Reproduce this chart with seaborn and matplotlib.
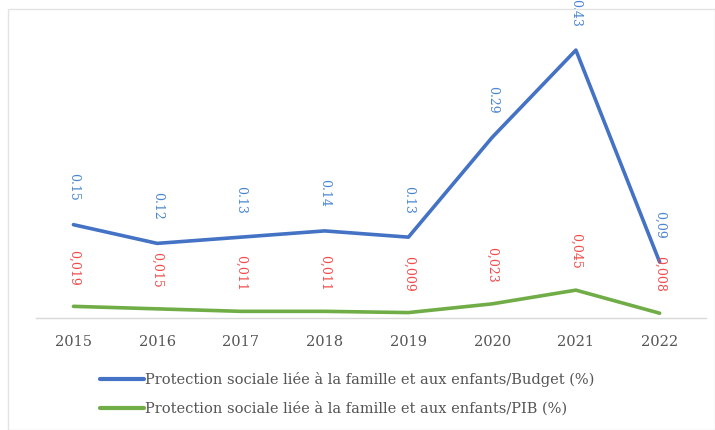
import matplotlib
matplotlib.use("Agg")
import matplotlib.pyplot as plt
import seaborn as sns
import pandas as pd
from matplotlib.patches import Rectangle

years = [2015, 2016, 2017, 2018, 2019, 2020, 2021, 2022]
budget_share = [0.15, 0.12, 0.13, 0.14, 0.13, 0.29, 0.43, 0.09]
gdp_share = [0.019, 0.015, 0.011, 0.011, 0.009, 0.023, 0.045, 0.008]
budget_labels = ["0.15", "0.12", "0.13", "0.14", "0.13", "0.29", "0.43", "0,09"]
gdp_labels = ["0,019", "0,015", "0,011", "0,011", "0,009", "0,023", "0,045", "0,008"]

name_budget = "Protection sociale liée à la famille et aux enfants/Budget (%)"
name_gdp = "Protection sociale liée à la famille et aux enfants/PIB (%)"

df = pd.DataFrame({
    "Année": years * 2,
    "Valeur": budget_share + gdp_share,
    "Série": [name_budget] * len(years) + [name_gdp] * len(years),
})

sns.set_theme(style="white")
plt.rcParams["font.family"] = ["DejaVu Serif"]

fig = plt.figure(figsize=(7.15, 4.3), dpi=100)
ax = fig.add_axes([0.05, 0.26, 0.937, 0.696])

palette = {name_budget: "#4472C4", name_gdp: "#70AD47"}
sns.lineplot(data=df, x="Année", y="Valeur", hue="Série", palette=palette,
             linewidth=2.6, ax=ax, legend=False)

for x, v, t in zip(years, budget_share, budget_labels):
    ax.annotate(t, (x, v), xytext=(0, 27), textcoords="offset points",
                rotation=270, ha="center", va="center", fontsize=9,
                color="#4A86D0")
for x, v, t in zip(years, gdp_share, gdp_labels):
    ax.annotate(t, (x, v), xytext=(0, 28), textcoords="offset points",
                rotation=270, ha="center", va="center", fontsize=9,
                color="#F04B4B")

ax.set_xlim(2014.55, 2022.55)
ax.set_ylim(0, 0.48)
ax.set_xticks(years)
ax.set_xticklabels([str(y) for y in years], fontsize=10.5, color="#555555")
ax.set_yticks([])
ax.set_xlabel("")
ax.set_ylabel("")
ax.tick_params(axis="x", length=0, pad=12)
for side in ["left", "right", "top"]:
    ax.spines[side].set_visible(False)
ax.spines["bottom"].set_color("#D9D9D9")
ax.spines["bottom"].set_linewidth(1)

handles = [plt.Line2D([], [], color=palette[name_budget], linewidth=3),
           plt.Line2D([], [], color=palette[name_gdp], linewidth=3)]
fig.legend(handles, [name_budget, name_gdp], loc="upper left",
           bbox_to_anchor=(0.14, 0.135), frameon=False, fontsize=10.5,
           handlelength=3.0, handletextpad=0.1, labelspacing=1.0,
           labelcolor="#555555", borderaxespad=0, borderpad=0)

# light frame around the chart
fig.patches.append(Rectangle((0.011, 0.0), 0.989, 0.978, transform=fig.transFigure,
                             fill=False, edgecolor="#E3E3E3", linewidth=1))

fig.savefig("out.png", dpi=100)
